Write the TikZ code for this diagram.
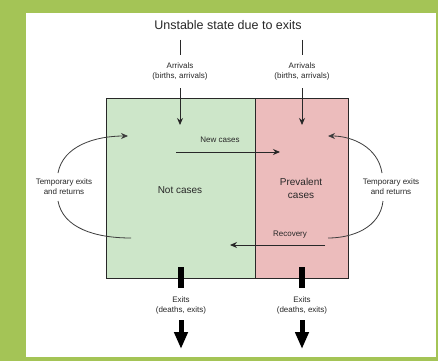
\documentclass[tikz,border=0pt]{standalone}
\usepackage{fontspec}
\setmainfont{Liberation Sans}
\usetikzlibrary{arrows.meta}
\definecolor{framegreen}{RGB}{164,196,86}
\definecolor{greenbox}{RGB}{205,230,201}
\definecolor{pinkbox}{RGB}{236,188,188}
\definecolor{ink}{RGB}{40,40,40}
\begin{document}
\begin{tikzpicture}[x=1pt,y=-1pt,
  lbl/.style={font=\fontsize{8}{10}\selectfont, align=center, inner sep=0pt, text=ink},
  big/.style={font=\fontsize{10}{13}\selectfont, align=center, text=ink},
  boxstyle/.style={draw=ink, line width=1.2pt, inner sep=0pt, anchor=north west},
  flow/.style={draw=ink, line width=0.9pt, -{Stealth[length=7pt,width=6pt]}},
  thinline/.style={draw=ink, line width=0.8pt},
  curve/.style={draw=ink!90, line width=0.8pt},
  exitbar/.style={draw=black, line width=6pt},
  exitarrow/.style={draw=black, line width=5pt, -{Triangle[length=17pt,width=13pt]}}
]
\fill[framegreen] (0,0) rectangle (438,361);
\fill[white] (26,13) rectangle (436,357);
\useasboundingbox (0,0) rectangle (438,361);

% title
\node[font=\fontsize{12.5}{15}\selectfont, text=ink] (title) at (228,25) {Unstable state due to exits};

% boxes
\node[boxstyle, fill=greenbox, minimum width=149pt, minimum height=180pt] (nc) at (106,98) {};
\node[boxstyle, fill=pinkbox, minimum width=93pt, minimum height=180pt] (pc) at (255,98) {};
\node[big] (nctext) at (180,190) {Not cases};
\node[big] (pctext) at (301,188) {Prevalent\\cases};

% arrivals
\coordinate (aLtop) at (180,40);
\coordinate (aLmid) at (180,55);
\coordinate (aLlow) at (180,88);
\coordinate (aLend) at (180,125);
\coordinate (aRtop) at (302,40);
\coordinate (aRmid) at (302,55);
\coordinate (aRlow) at (302,88);
\coordinate (aRend) at (302,125);
\node[lbl] (arrL) at (180,71) {Arrivals\\(births, arrivals)};
\node[lbl] (arrR) at (302,71) {Arrivals\\(births, arrivals)};
\draw[thinline] (aLtop) -- (aLmid);
\draw[thinline] (aRtop) -- (aRmid);
\draw[flow] (aLlow) -- (aLend);
\draw[flow] (aRlow) -- (aRend);

% new cases
\coordinate (ncs) at (176,152);
\coordinate (nce) at (280,152);
\node[lbl] (newcases) at (220,140) {New cases};
\draw[flow] (ncs) -- (nce);

% recovery
\coordinate (rcs) at (325,245);
\coordinate (rce) at (230,245);
\node[lbl] (recovery) at (290,235) {Recovery};
\draw[flow] (rcs) -- (rce);

% temporary exits, left
\node[lbl] (tmpL) at (64,187) {Temporary exits\\and returns};
\coordinate (tLa) at (58,173);
\coordinate (tLb) at (128,136);
\coordinate (tLc) at (58,201);
\coordinate (tLd) at (131,238);
\draw[curve, -{Stealth[length=7pt,width=6pt]}] (tLa) .. controls (63,146) and (95,136) .. (tLb);
\draw[curve] (tLc) .. controls (63,228) and (95,238) .. (tLd);

% temporary exits, right
\node[lbl] (tmpR) at (391,187) {Temporary exits\\and returns};
\coordinate (tRa) at (382,173);
\coordinate (tRb) at (328,136);
\coordinate (tRc) at (383,201);
\coordinate (tRd) at (328,238);
\draw[curve, -{Stealth[length=7pt,width=6pt]}] (tRa) .. controls (378,147) and (352,136) .. (tRb);
\draw[curve] (tRc) .. controls (380,228) and (352,238) .. (tRd);

% exits
\coordinate (eLbt) at (181,267);
\coordinate (eLbb) at (181,288);
\coordinate (eLat) at (181,320);
\coordinate (eLab) at (181,349);
\coordinate (eRbt) at (302,267);
\coordinate (eRbb) at (302,288);
\coordinate (eRat) at (302,320);
\coordinate (eRab) at (302,349);
\draw[exitbar] (eLbt) -- (eLbb);
\draw[exitbar] (eRbt) -- (eRbb);
\node[lbl] (exL) at (181,305) {Exits\\(deaths, exits)};
\node[lbl] (exR) at (302,305) {Exits\\(deaths, exits)};
\draw[exitarrow] (eLat) -- (eLab);
\draw[exitarrow] (eRat) -- (eRab);
\end{tikzpicture}
\end{document}
